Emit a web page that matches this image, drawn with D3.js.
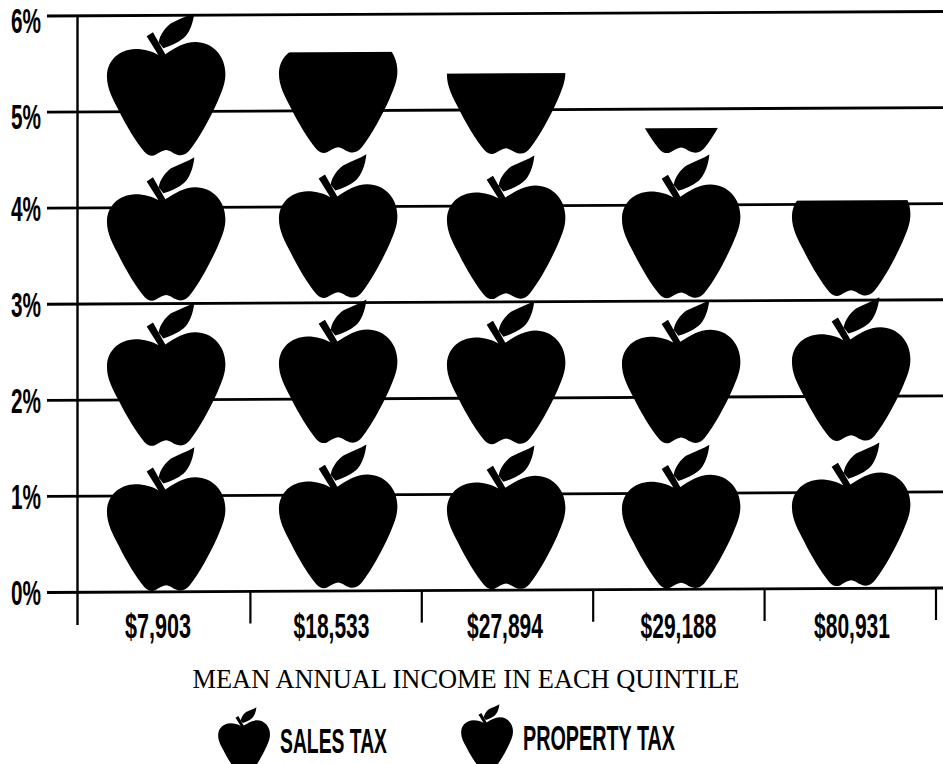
<!DOCTYPE html>
<html><head><meta charset="utf-8">
<style>html,body{margin:0;padding:0;background:#fff;overflow:hidden}svg{display:block}</style>
<script src="https://cdn.jsdelivr.net/npm/d3@7"></script></head>
<body><div id="chart"></div>
<script>
const incomes = ["$7,903","$18,533","$27,894","$29,188","$80,931"];
const totalTax = [6.0,5.61,5.38,4.8,4.04];
const appleBases = [0,1.51,3.02,4.53];
const appleLift = [0,0.02,0,0,0.015];
const percentTicks = [0,1,2,3,4,5,6];
const xTitle = "MEAN ANNUAL INCOME IN EACH QUINTILE";
const legendItems = ["SALES TAX","PROPERTY TAX"];

const W=943,H=764,ink="#000";
const LABEL_FONT='"Liberation Sans",Arial,sans-serif';
const svg=d3.select("#chart").append("svg").attr("width",W).attr("height",H);
const y=d3.scaleLinear().domain([0,6]).range([592.5,16]);
const xApple=d3.scaleOrdinal().domain(incomes).range([166,338,506,681,851]);
const xLabel=d3.scalePoint().domain(incomes).range([158,852]);
const xCell=d3.scaleBand().domain(incomes).range([79,936]);

// symbol outline, in its own units: centre x=230, base y=482, total height 430
const body="M207 180 C190 170 165 162 138 162 C90 163 55 195 53 240 C52 280 70 310 88 345 C110 390 140 440 165 470 C175 482 188 484 197 480 C208 475 218 466 230 465 C242 466 252 476 265 480 C280 484 292 478 302 465 C330 430 360 375 385 320 C400 285 408 265 408 237 C408 185 370 142 318 142 C285 142 255 160 228 178 L191 112 L172 124 Z";
const leaf="M208 142 C212 118 228 98 245 85 C270 72 295 65 315 52 C312 85 300 115 283 130 C265 145 240 155 222 160 Z";
const appleShape=body+" "+leaf;
const unit=(y(0)-y(1.5))/432;

const skew=-0.005;
const plot=svg.append("g").attr("transform",`matrix(1,${skew},0,1,0,${-skew*47})`);
const defs=svg.append("defs");
incomes.forEach((d,i)=>defs.append("clipPath").attr("id","clip"+i).append("rect")
  .attr("x",xApple(d)-75).attr("width",150)
  .attr("y",y(totalTax[i])).attr("height",y(0)-y(totalTax[i])+3));

plot.selectAll("line.grid").data(percentTicks).join("line").attr("class","grid")
  .attr("x1",47).attr("x2",W+5).attr("y1",d=>y(d)).attr("y2",d=>y(d))
  .attr("stroke",ink).attr("stroke-width",2.8);
svg.append("line").attr("x1",77.5).attr("x2",77.5).attr("y1",y(6)).attr("y2",625)
  .attr("stroke",ink).attr("stroke-width",2.4);
plot.selectAll("line.sep").data(incomes).join("line").attr("class","sep")
  .attr("x1",d=>xCell(d)+xCell.bandwidth()).attr("x2",d=>xCell(d)+xCell.bandwidth())
  .attr("y1",y(0)).attr("y2",y(0)+32)
  .attr("stroke",ink).attr("stroke-width",2.2);

incomes.forEach((d,i)=>{
  const g=plot.append("g").attr("clip-path",`url(#clip${i})`);
  g.selectAll("path").data(appleBases.filter(b=>b<totalTax[i])).join("path")
    .attr("d",appleShape).attr("fill",ink)
    .attr("transform",b=>`translate(${xApple(d)},${y(b+appleLift[i])-1}) scale(${unit}) translate(-230,-482)`);
});

function condensed(sel,width){return sel.attr("textLength",width).attr("lengthAdjust","spacingAndGlyphs");}
svg.selectAll("text.pct").data(percentTicks).join("text").attr("class","pct")
  .attr("x",26).attr("y",d=>y(d)+(d>=5?16.5:12.5)).attr("text-anchor","middle")
  .attr("font-family",LABEL_FONT).attr("font-weight",700).attr("font-size",35)
  .text(d=>d+"%").call(condensed,30);
svg.selectAll("text.inc").data(incomes).join("text").attr("class","inc")
  .attr("x",d=>xLabel(d)).attr("y",638).attr("text-anchor","middle")
  .attr("font-family",LABEL_FONT).attr("font-weight",700).attr("font-size",35)
  .text(d=>d).each(function(d){d3.select(this).attr("textLength",d.length>6?76:66).attr("lengthAdjust","spacingAndGlyphs");});
svg.append("text").attr("x",466).attr("y",688).attr("text-anchor","middle")
  .attr("font-family",'"Liberation Serif",serif').attr("font-size",27)
  .text(xTitle).call(condensed,547);

const legX=[244,487],legB=[770,767],legT=[280,523],legW=[107,152],legY=[753,750];
legendItems.forEach((t,i)=>{
  svg.append("path").attr("d",appleShape).attr("fill",ink)
    .attr("transform",`translate(${legX[i]},${legB[i]}) scale(0.146) translate(-230,-482)`);
  svg.append("text").attr("x",legT[i]).attr("y",legY[i])
    .attr("font-family",LABEL_FONT).attr("font-weight",700).attr("font-size",35)
    .text(t).call(condensed,legW[i]);
});
</script></body></html>
